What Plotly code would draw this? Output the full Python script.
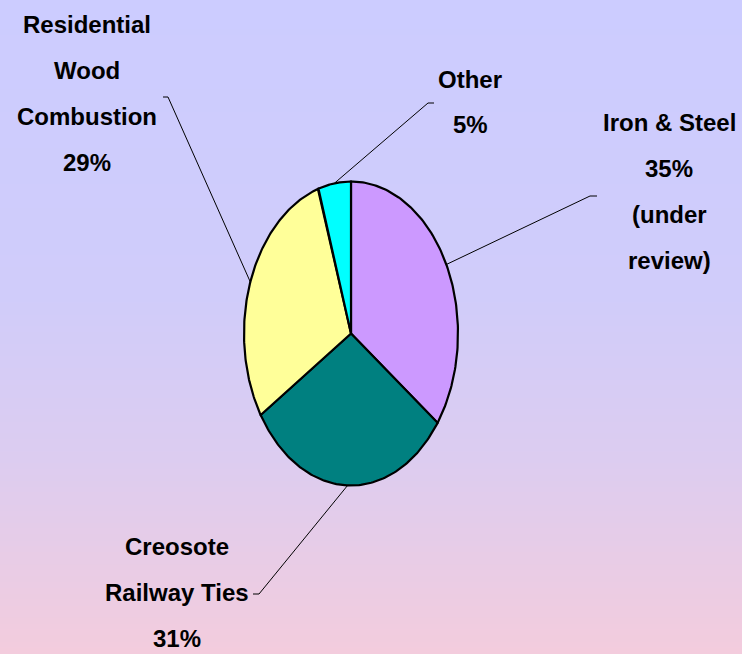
import numpy as np
import plotly.graph_objects as go

# ---- data ----
categories = ["Iron & Steel", "Creosote Railway Ties", "Residential Wood Combustion", "Other"]
values = [35, 31, 29, 5]
colors = ["#CC99FF", "#008080", "#FFFF99", "#00FFFF"]
# label text lines (the percentage line is built from the values)
label_lines = {
    "Iron & Steel": ["Iron & Steel", "{p}", "(under", "review)"],
    "Creosote Railway Ties": ["Creosote", "Railway Ties", "{p}"],
    "Residential Wood Combustion": ["Residential", "Wood", "Combustion", "{p}"],
    "Other": ["Other", "{p}"],
}

# ---- layout constants (pixel-like data coords, y downward) ----
W, H = 742, 654
CX, CY, RX, RY = 351, 333.5, 107, 152
label_pos = {  # center x, first-line y, line step
    "Iron & Steel": (669, 122, 46),
    "Creosote Railway Ties": (177, 546, 46),
    "Residential Wood Combustion": (87, 24, 46),
    "Other": (470, 79, 45),
}
leader = {  # elbow, tip
    "Iron & Steel": ((590, 196), (597, 196)),
    "Creosote Railway Ties": ((259, 594), (253, 594)),
    "Residential Wood Combustion": ((168, 97), (163, 97)),
    "Other": ((428, 103), (434, 103)),
}

def pt(theta_deg):
    t = np.radians(theta_deg)
    return CX + RX * np.sin(t), CY - RY * np.cos(t)

fig = go.Figure()
total = sum(values)
start = 0.0
FONT = dict(family="Liberation Sans, Arial", size=24, color="black")
for cat, v, c in zip(categories, values, colors):
    span = v / total * 360
    th = np.linspace(start, start + span, 120)
    ax, ay = pt(th)
    xs = np.concatenate([[CX], ax, [CX]])
    ys = np.concatenate([[CY], ay, [CY]])
    fig.add_trace(go.Scatter(x=xs, y=ys, mode="lines", fill="toself", fillcolor=c,
                             line=dict(color="black", width=2.2), hoverinfo="skip",
                             showlegend=False))
    mid = start + span / 2
    ex, ey = pt(mid)
    (bx, by), (tx, ty) = leader[cat]
    fig.add_trace(go.Scatter(x=[ex, bx, tx], y=[ey, by, ty], mode="lines",
                             line=dict(color="black", width=1), hoverinfo="skip",
                             showlegend=False))
    lx, ly, step = label_pos[cat]
    for i, line in enumerate(label_lines[cat]):
        txt = line.format(p=f"{v}%")
        fig.add_annotation(x=lx, y=ly + i * step, text=f"<b>{txt}</b>", showarrow=False,
                           xanchor="center", yanchor="middle", font=FONT)
    start += span

# gradient background bands
stops = [(0.0, (204, 204, 255)), (0.45, (208, 204, 250)), (0.7, (220, 204, 240)), (1.0, (243, 204, 221))]
def col(f):
    for (f0, c0), (f1, c1) in zip(stops[:-1], stops[1:]):
        if f <= f1:
            t = (f - f0) / (f1 - f0)
            return "rgb(%d,%d,%d)" % tuple(round(a + (b - a) * t) for a, b in zip(c0, c1))
    return "rgb(%d,%d,%d)" % stops[-1][1]
N = 110
shapes = []
for i in range(N):
    f = (i + 0.5) / N
    shapes.append(dict(type="rect", xref="paper", yref="paper", x0=0, x1=1,
                       y0=1 - (i + 1) / N - 0.001, y1=1 - i / N + 0.001,
                       fillcolor=col(f), line=dict(width=0), layer="below"))

fig.update_layout(
    width=W, height=H, margin=dict(l=0, r=0, t=0, b=0),
    paper_bgcolor="rgb(220,204,240)", plot_bgcolor="rgba(0,0,0,0)",
    shapes=shapes,
    xaxis=dict(range=[0, W], visible=False, fixedrange=True),
    yaxis=dict(range=[H, 0], visible=False, fixedrange=True),
    showlegend=False,
)
fig.write_html("out.html", config={"displayModeBar": False},
               post_script="document.body.style.margin='0px';document.body.style.overflow='hidden';")
